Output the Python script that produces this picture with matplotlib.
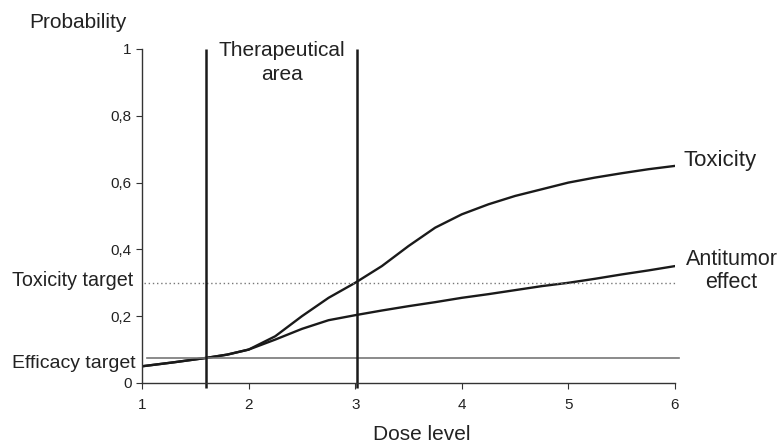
import matplotlib
matplotlib.use("Agg")
import matplotlib.pyplot as plt

plt.rcParams["font.family"] = ["Liberation Sans", "DejaVu Sans"]

# curves
dose = [1, 1.3, 1.6, 1.8, 2, 2.25, 2.5, 2.75, 3, 3.25, 3.5, 3.75,
        4, 4.25, 4.5, 4.75, 5, 5.25, 5.5, 5.75, 6]
toxicity = [0.05, 0.062, 0.075, 0.085, 0.10, 0.14, 0.20, 0.255, 0.30, 0.35,
            0.41, 0.465, 0.505, 0.535, 0.56, 0.58, 0.60, 0.615, 0.628, 0.64, 0.65]
antitumor = [0.05, 0.062, 0.075, 0.085, 0.10, 0.13, 0.162, 0.188, 0.203, 0.217,
             0.23, 0.242, 0.255, 0.266, 0.278, 0.29, 0.30, 0.312, 0.325, 0.337, 0.35]

tox_target = 0.30
eff_target = 0.075
area_bounds = [1.6, 3.02]

x_ticks = [1, 2, 3, 4, 5, 6]
y_ticks = [0, 0.2, 0.4, 0.6, 0.8, 1.0]
y_ticklabels = ["0", "0,2", "0,4", "0,6", "0,8", "1"]

fig = plt.figure(figsize=(7.77, 4.47), dpi=100)
ax = fig.add_axes([0.1828, 0.1432, 0.6859, 0.7472])

ax.plot(dose, toxicity, color="#1a1a1a", lw=1.7)
ax.plot(dose, antitumor, color="#1a1a1a", lw=1.7)

ax.plot([1.02, 6.01], [tox_target, tox_target], color="#777777", lw=1.0,
        ls=(0, (1, 2)), clip_on=False)
ax.plot([1.05, 6.04], [eff_target, eff_target], color="#777777", lw=1.2,
        clip_on=False)

ax.vlines(area_bounds, -0.015, 1.0, colors="#1a1a1a", lw=1.8, clip_on=False)

ax.set_xlim(1, 6)
ax.set_ylim(0, 1)
ax.set_xticks(x_ticks)
ax.set_yticks(y_ticks)
ax.set_yticklabels(y_ticklabels)
for s in ["top", "right"]:
    ax.spines[s].set_visible(False)
for s in ["left", "bottom"]:
    ax.spines[s].set_color("#333333")
    ax.spines[s].set_linewidth(1.0)
ax.tick_params(axis="both", labelsize=11, length=4, color="#333333",
               labelcolor="#222222")
ax.tick_params(axis="x", pad=7)

fig.text(422 / 777, 1 - 435 / 447, "Dose level", fontsize=15, color="#222222",
         ha="center", va="center")
fig.text(0.038, 1 - 22 / 447, "Probability", fontsize=15, color="#222222",
         ha="left", va="center")

ax.text(2.31, 0.96, "Therapeutical\narea", fontsize=15, ha="center",
        va="center", color="#222222", linespacing=1.3)
ax.text(6.08, 0.665, "Toxicity", fontsize=16, ha="left", va="center",
        color="#222222", clip_on=False)
ax.text(6.53, 0.335, "Antitumor\neffect", fontsize=15.5, ha="center",
        va="center", color="#222222", clip_on=False, linespacing=1.15)
fig.text(12 / 777, 1 - 280 / 447, "Toxicity target", fontsize=14.2, ha="left",
         va="center", color="#222222")
fig.text(12 / 777, 1 - 364 / 447, "Efficacy target", fontsize=14, ha="left",
         va="center", color="#222222")

fig.savefig("out.png", dpi=100)
